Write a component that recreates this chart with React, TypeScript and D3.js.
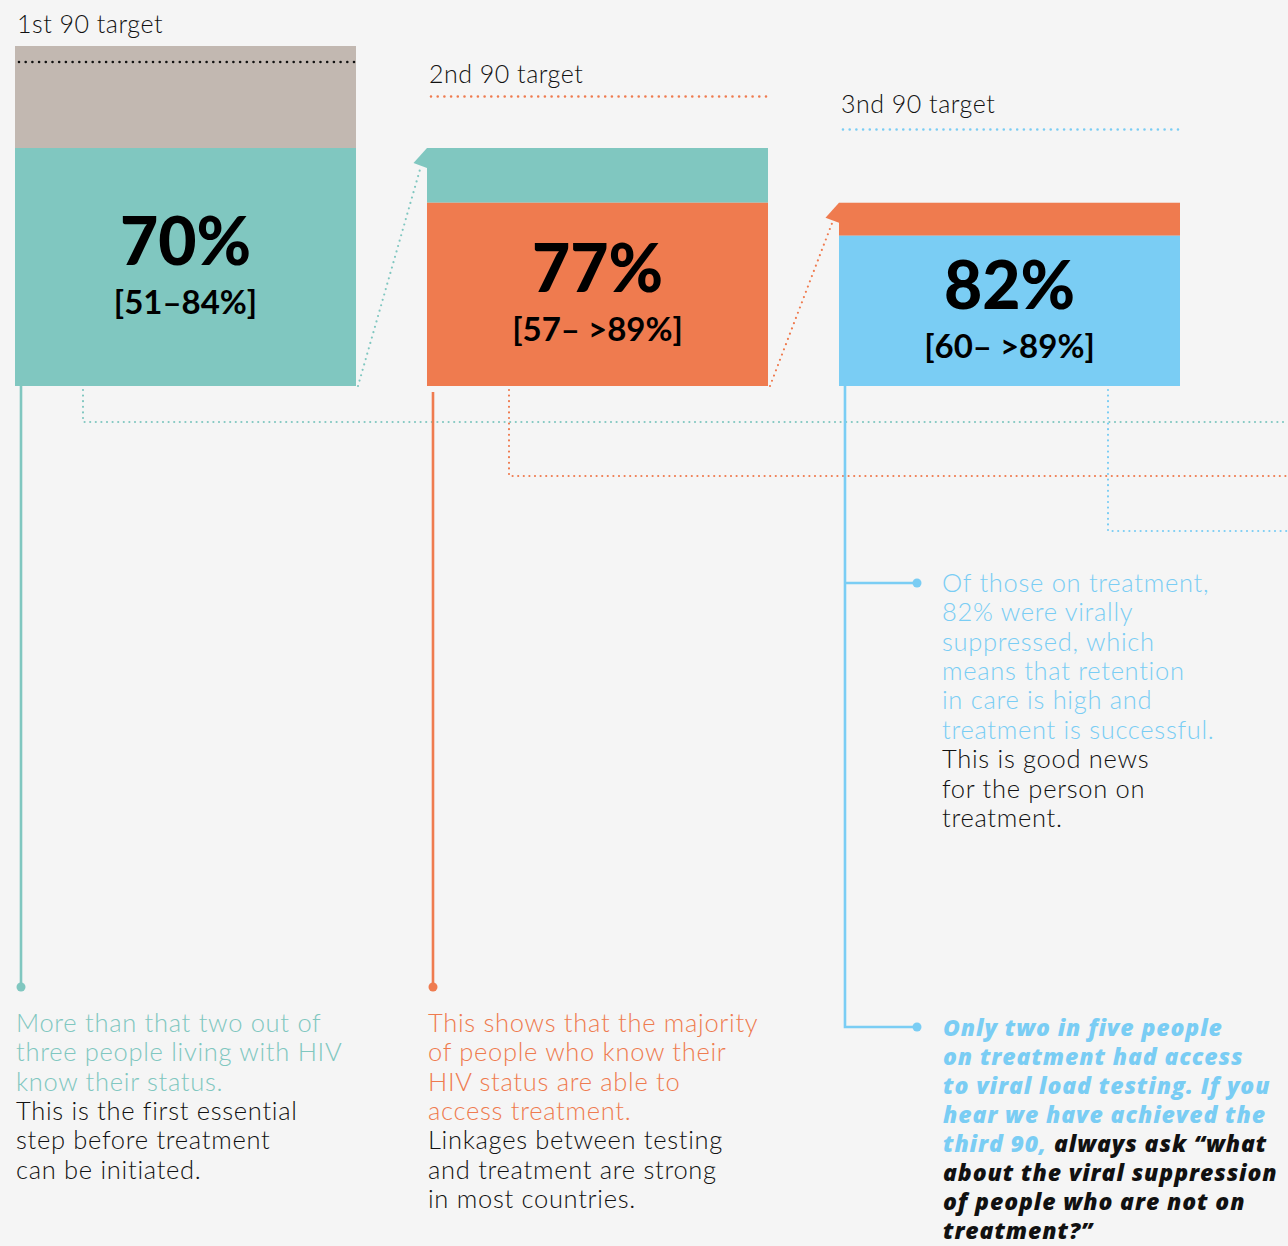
import React from 'react';
import * as d3 from 'd3';

// the three 90-90-90 stages
const stages = ['1st 90', '2nd 90', '3rd 90'];
const targetLabels = ['1st 90 target', '2nd 90 target', '3nd 90 target'];
const achieved = [70, 77, 82];
const ranges = ['[51–84%]', '[57– >89%]', '[60– >89%]'];

// annotation text
const knowText = ['More than that two out of', 'three people living with HIV', 'know their status.'];
const knowNote = ['This is the first essential', 'step before treatment', 'can be initiated.'];
const treatText = ['This shows that the majority', 'of people who know their', 'HIV status are able to', 'access treatment.'];
const treatNote = ['Linkages between testing', 'and treatment are strong', 'in most countries.'];
const suppText = ['Of those on treatment,', '82% were virally', 'suppressed, which', 'means that retention', 'in care is high and', 'treatment is successful.'];
const suppNote = ['This is good news', 'for the person on', 'treatment.'];
const vlText = ['Only two in five people', 'on treatment had access', 'to viral load testing. If you', 'hear we have achieved the', 'third 90,'];
const vlNote = [' always ask “what', 'about the viral suppression', 'of people who are not on', 'treatment?”'];

const W = 1288;
const H = 1246;
const BG = '#f5f5f5';
const GRAY = '#c2b8b1';
const colors = ['#80c7c0', '#ef7b4f', '#7acdf4'];
const FONT = 'Lato, "Noto Sans", sans-serif';
const FONT_BI = '"Open Sans", "Noto Sans", sans-serif';

const base = 386;
const lineH = 29.4;

const x = d3.scaleBand().domain(stages).range([15, 1180]).paddingInner(0.1723).paddingOuter(0);
const y = d3.scaleLinear().domain([0, 100]).range([base, 46]);
const bw = x.bandwidth();

// each bar is the share of the previous stage
const totals: number[] = [];
achieved.forEach((v, i) => totals.push(i === 0 ? 100 : (totals[i - 1] * achieved[i - 1]) / 100));
const parts = totals.map((t, i) => (t * achieved[i]) / 100);

const labelY = [33, 83, 113];
const targetLineY = [62, 96.5, 129.5];
const leaderX = [83, 509, 1108];
const leaderY = [422, 476, 531];

const dotted = (color: string, w = 2.4, gap = 5.6) => ({
  stroke: color,
  strokeWidth: w,
  strokeDasharray: `0 ${gap}`,
  strokeLinecap: 'round' as const,
  fill: 'none',
});

const Block = ({ x0, y0, lines, note, color, size = 25.5, weight = 300 }: any) => (
  <text x={x0} y={y0} fontFamily={FONT} fontSize={size} fontWeight={weight} letterSpacing={0.7}>
    {lines.map((l: string, i: number) => (
      <tspan key={'c' + i} x={x0} y={y0 + i * lineH} fill={color}>{l}</tspan>
    ))}
    {note.map((l: string, i: number) => (
      <tspan key={'n' + i} x={x0} y={y0 + (lines.length + i) * lineH} fill="#111">{l}</tspan>
    ))}
  </text>
);

export default function App() {
  const vlH = 29.1;
  const vlY = 1035.5;
  return (
    <svg width={W} height={H} style={{ position: 'absolute', left: 0, top: 0 }}>
      <rect width={W} height={H} fill={BG} />

      {/* dotted leaders running to the right edge */}
      {stages.map((s, i) => (
        <path key={'lead' + s} d={`M${leaderX[i]},${base + 4}V${leaderY[i]}H${W}`} {...dotted(colors[i], 2.2)} />
      ))}

      {stages.map((s, i) => {
        const left = x(s)!;
        const topY = y(totals[i]);
        const splitY = y(parts[i]);
        const mid = (splitY + base) / 2;
        return (
          <g key={s}>
            <rect x={left} y={topY} width={bw} height={splitY - topY} fill={i === 0 ? GRAY : colors[i - 1]} />
            <rect x={left} y={splitY} width={bw} height={base - splitY} fill={colors[i]} />
            <text x={left + 2} y={labelY[i]} fontFamily={FONT} fontSize={25} fontWeight={300} letterSpacing={0.5} fill="#111">{targetLabels[i]}</text>
            <line x1={left + 4} x2={left + bw - 2} y1={targetLineY[i]} y2={targetLineY[i]} {...dotted(i === 0 ? '#111' : colors[i], 2.6, 6.7)} />
            <text x={left + bw / 2} y={mid - 2} textAnchor="middle" fontFamily={FONT} fontSize={66} fontWeight={900} fill="#000">{achieved[i]}%</text>
            <text x={left + bw / 2} y={mid + 47} textAnchor="middle" fontFamily={FONT} fontSize={33} fontWeight={700} fill="#000">{ranges[i]}</text>
          </g>
        );
      })}

      {/* connectors from one bar to the next */}
      {stages.slice(1).map((s, i) => {
        const from = x(stages[i])! + bw + 2;
        const left = x(s)!;
        const topY = y(totals[i + 1]);
        return (
          <g key={'con' + s}>
            <line x1={from} y1={base} x2={left - 6} y2={topY + 18} {...dotted(colors[i], 2.2, 5.6)} />
            <polygon points={`${left},${topY} ${left - 13.5},${topY + 15} ${left},${topY + 20}`} fill={colors[i]} />
          </g>
        );
      })}

      {/* solid leaders down to the notes */}
      {stages.slice(0, 2).map((s, i) => (
        <g key={'sol' + s}>
          <line x1={x(s)! + 6} x2={x(s)! + 6} y1={base + (i === 1 ? 6 : 0)} y2={987} stroke={colors[i]} strokeWidth={2.6} />
          <circle cx={x(s)! + 6} cy={987} r={4.5} fill={colors[i]} />
        </g>
      ))}
      <path d={`M${x(stages[2])! + 6},${base}V1027H917M${x(stages[2])! + 6},583H917`} stroke={colors[2]} strokeWidth={2.6} fill="none" />
      <circle cx={917} cy={583} r={4.5} fill={colors[2]} />
      <circle cx={917} cy={1027} r={4.5} fill={colors[2]} />

      <Block x0={16} y0={1031.7} lines={knowText} note={knowNote} color={colors[0]} />
      <Block x0={428} y0={1031.7} lines={treatText} note={treatNote} color={colors[1]} />
      <Block x0={942} y0={591.7} lines={suppText} note={suppNote} color={colors[2]} />

      <text x={943} y={vlY} fontFamily={FONT_BI} fontSize={23} fontWeight={800} fontStyle="italic" letterSpacing={0.9}>
        {vlText.map((l, i) => (
          <tspan key={'v' + i} x={943} y={vlY + i * vlH} fill={colors[2]}>{l}</tspan>
        ))}
        <tspan fill="#111">{vlNote[0]}</tspan>
        {vlNote.slice(1).map((l, i) => (
          <tspan key={'vn' + i} x={943} y={vlY + (vlText.length + i) * vlH} fill="#111">{l}</tspan>
        ))}
      </text>
    </svg>
  );
}
